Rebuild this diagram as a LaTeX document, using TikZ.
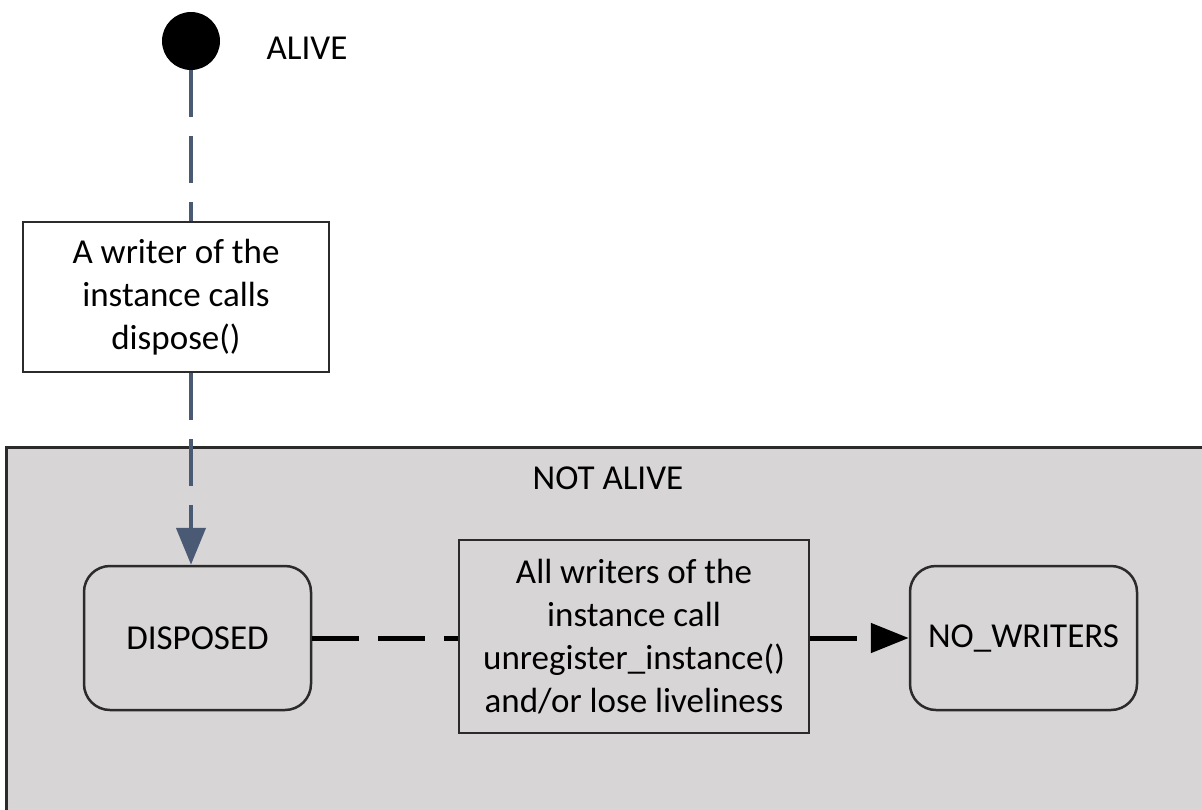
\documentclass[tikz,border=0pt]{standalone}
\usepackage{fontspec}
\setmainfont{Carlito}
\usetikzlibrary{arrows.meta}
\definecolor{regionfill}{HTML}{D7D5D6}
\definecolor{edgeblue}{HTML}{4A5A74}
\definecolor{outline}{HTML}{2B2B2B}
\tikzset{
  txt/.style={font=\fontsize{35}{43}\selectfont, align=center, inner sep=0pt},
  labelbox/.style={txt, draw=outline, line width=2pt, rectangle},
  statebox/.style={txt, draw=outline, line width=2.5pt, rounded corners=26pt, rectangle},
  longdash/.style={dash pattern=on 47pt off 19pt, line cap=butt},
  blueflow/.style={draw=edgeblue, line width=4.5pt, longdash},
  blackflow/.style={draw=black, line width=5pt, longdash},
}
\begin{document}
\begin{tikzpicture}[x=1pt, y=-1pt]
  \useasboundingbox (0,0) rectangle (1202,809);
  \clip (0,0) rectangle (1202,809);

  % NOT ALIVE region, running off the right and bottom edges
  \node[draw=outline, line width=3pt, fill=regionfill, minimum width=1220pt, minimum height=380pt,
        anchor=north west, inner sep=0pt] (region) at (5,446) {};
  \node[txt] (notalive) at (608,478) {NOT ALIVE};

  % initial state
  \node[circle, fill=black, minimum size=58pt, inner sep=0pt] (init) at (191,41) {};
  \node[txt] (alive) at (307,48) {ALIVE};

  % transition label on the dispose path
  \node[labelbox, fill=white, minimum width=306pt, minimum height=150pt] (lab1) at (176,297)
    {A writer of the\\instance calls\\dispose()};

  % states
  \node[statebox, minimum width=227pt, minimum height=144pt] (disposed) at (197.5,638) {DISPOSED};
  \node[statebox, minimum width=227pt, minimum height=144pt] (nowriters) at (1023.5,638) {NO\_WRITERS};

  % transition label between the two states
  \node[labelbox, minimum width=350pt, minimum height=193pt] (lab2) at (634,636.5)
    {All writers of the\\instance call\\unregister\_instance()\\and/or lose liveliness};

  % connectors
  \draw[blueflow] (init.south) -- (init |- lab1.north);
  \draw[blueflow, -{Triangle[length=37pt, width=29pt, fill=edgeblue]}] (init |- lab1.south) -- (init |- disposed.north);
  \draw[blackflow] (disposed.east) -- (lab2.west |- disposed.east);
  \draw[blackflow, -{Triangle[length=38pt, width=29pt]}] (lab2.east |- nowriters.west) -- (nowriters.west);
\end{tikzpicture}
\end{document}
